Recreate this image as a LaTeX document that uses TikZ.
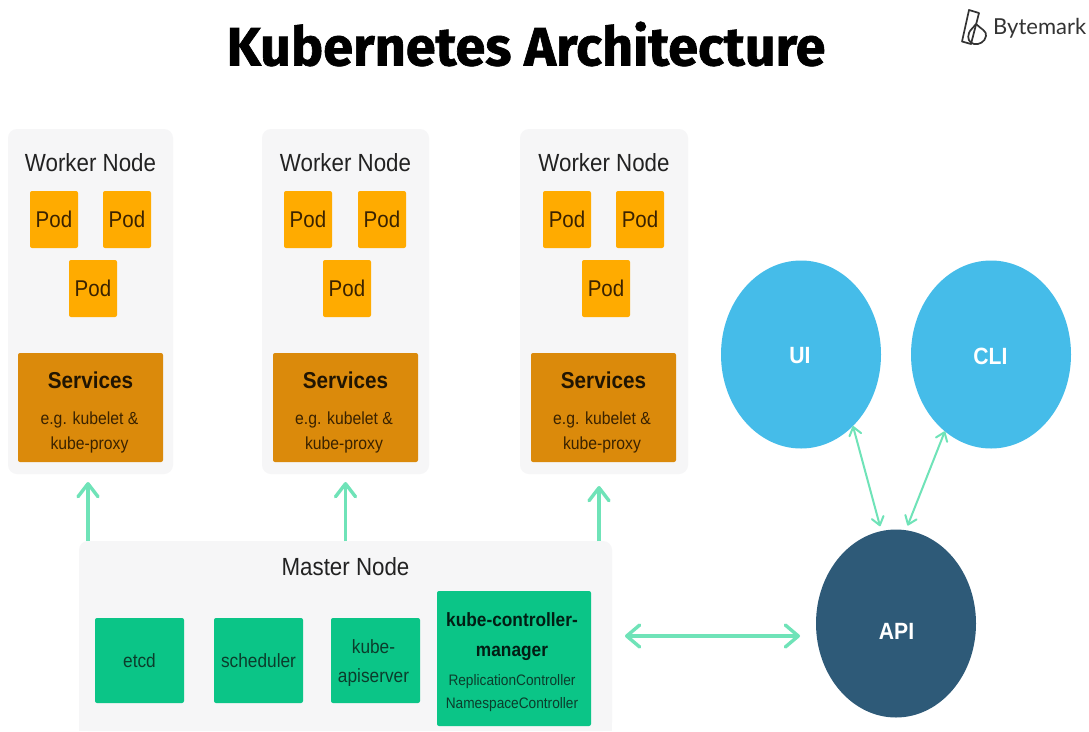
\documentclass[tikz,border=0pt]{standalone}
\usepackage{fontspec}
\setmainfont{Liberation Sans}[FakeStretch=0.9]
\newfontfamily\titlefont{Fira Sans}[FakeStretch=1.0,FakeBold=1.2]
\newfontfamily\logofont{Lato}
\usetikzlibrary{shapes.geometric,arrows.meta}
\definecolor{cardgrey}{HTML}{F6F6F7}
\definecolor{podorange}{HTML}{FFAB00}
\definecolor{svcorange}{HTML}{DB8A0B}
\definecolor{kgreen}{HTML}{0BC587}
\definecolor{kblue}{HTML}{45BCE9}
\definecolor{apiblue}{HTML}{2E5A78}
\definecolor{flowgreen}{HTML}{6FE3B8}
\definecolor{inkbrown}{HTML}{3A2200}
\definecolor{inkgreen}{HTML}{0B3D2C}
\definecolor{inkgrey}{HTML}{222222}
\newcommand{\fsz}[1]{\fontsize{#1}{#1}\selectfont}
\tikzset{
  box/.style={rectangle,inner sep=0pt,outer sep=0pt,anchor=north west},
  card/.style={box,fill=cardgrey,rounded corners=9pt,text=inkgrey,align=center},
  cardtitle/.style={text=inkgrey,inner sep=0pt,font=\fsz{24.8}},
  podbox/.style={box,fill=podorange,rounded corners=2pt,minimum width=48pt,minimum height=57pt,text=inkbrown,font=\fsz{22.8}},
  svcbox/.style={box,fill=svcorange,rounded corners=2pt,minimum width=145pt,minimum height=109pt},
  svctitle/.style={inner sep=0pt,text=black!85!svcorange,font=\fsz{23}\bfseries},
  svcnote/.style={inner sep=0pt,align=center,text=inkbrown,font=\fsz{17.5}},
  greenbox/.style={box,fill=kgreen,rounded corners=2pt,text=inkgreen,align=center,font=\fsz{19.2}},
  greentext/.style={inner sep=0pt,text=inkgreen,align=center,font=\fsz{19.2}},
  disc/.style={ellipse,inner sep=0pt,outer sep=0pt,minimum width=160pt,minimum height=188pt},
  disctext/.style={inner sep=0pt,text=white,font=\fsz{23.5}\bfseries},
  flow/.style={draw=flowgreen,line width=3.4pt,-{Straight Barb[length=13pt,width=20pt,line width=3.4pt,round]}},
  flowthin/.style={draw=flowgreen,line width=2pt,{Straight Barb[length=8pt,width=12pt,line width=2pt,round]}-{Straight Barb[length=8pt,width=12pt,line width=2pt,round]}},
  flowboth/.style={draw=flowgreen,line width=3.4pt,{Straight Barb[length=13pt,width=22pt,line width=3.4pt,round]}-{Straight Barb[length=13pt,width=22pt,line width=3.4pt,round]}},
  logoline/.style={draw=black!80,line width=1.7pt,line join=round}
}
\begin{document}
\begin{tikzpicture}[x=1pt,y=-1pt]
\useasboundingbox (0,0) rectangle (1089,731);
\clip (0,0) rectangle (1089,731);
\fill[white] (0,0) rectangle (1089,731);

% title and logo
\node[inner sep=0pt,text=black,font=\titlefont\fsz{54}\bfseries] (title) at (526,44) {Kubernetes Architecture};
\node[inner sep=0pt,anchor=west,text=black!80,font=\logofont\fsz{22}] (logo) at (993,28) {Bytemark};
\draw[logoline] (969,10) -- (979,13) -- (971,44) -- (962,41.5) -- cycle;
\draw[logoline] (976,24) .. controls (981,29) and (987,31) .. (986,36) .. controls (985,42) and (979,45) .. (974,44) .. controls (969,43) and (967,38) .. (969,33) .. controls (970,30) and (973,28) .. (976,24);

% worker 1
\node[card,minimum width=165pt,minimum height=345pt] (worker1) at (8,129) {};
\node[cardtitle] (w1t) at (90.5,163) {Worker Node};
\node[podbox] (w1p1) at (30,191) {Pod};
\node[podbox] (w1p2) at (103,191) {Pod};
\node[podbox] (w1p3) at (69,260) {Pod};
\node[svcbox] (w1s) at (18,353) {};
\node[svctitle] (w1st) at (90.5,380) {Services};
\node[svcnote] (w1sn) at (89.5,432.5) {e.g. kubelet \&\\[7pt]kube-proxy};

% worker 2
\node[card,minimum width=167pt,minimum height=345pt] (worker2) at (262,129) {};
\node[cardtitle] (w2t) at (345.5,163) {Worker Node};
\node[podbox] (w2p1) at (284,191) {Pod};
\node[podbox] (w2p2) at (358,191) {Pod};
\node[podbox] (w2p3) at (323,260) {Pod};
\node[svcbox] (w2s) at (273,353) {};
\node[svctitle] (w2st) at (345.5,380) {Services};
\node[svcnote] (w2sn) at (344,432.5) {e.g. kubelet \&\\[7pt]kube-proxy};

% worker 3
\node[card,minimum width=168pt,minimum height=345pt] (worker3) at (520,129) {};
\node[cardtitle] (w3t) at (604,163) {Worker Node};
\node[podbox] (w3p1) at (543,191) {Pod};
\node[podbox] (w3p2) at (616,191) {Pod};
\node[podbox] (w3p3) at (582,260) {Pod};
\node[svcbox] (w3s) at (531,353) {};
\node[svctitle] (w3st) at (603.5,380) {Services};
\node[svcnote] (w3sn) at (602,432.5) {e.g. kubelet \&\\[7pt]kube-proxy};

% master
\node[card,minimum width=533pt,minimum height=190pt,rounded corners=9pt] (master) at (79,541) {};
\fill[cardgrey] (79,700) rectangle (612,731);
\node[cardtitle] (mt) at (345.5,567) {Master Node};
\node[greenbox,minimum width=89pt,minimum height=85pt] (etcd) at (95,618) {};
\node[greentext] (etcdt) at (139.5,661) {etcd};
\node[greenbox,minimum width=89pt,minimum height=85pt] (sched) at (214,618) {};
\node[greentext] (schedt) at (258.5,661) {scheduler};
\node[greenbox,minimum width=89pt,minimum height=85pt] (apis) at (331,618) {};
\node[greentext] (apist) at (373.5,663) {kube-\\[10pt]apiserver};
\node[greenbox,minimum width=154pt,minimum height=135pt] (kcm) at (437,591) {};
\node[inner sep=0pt,align=center,text=black!85!kgreen,font=\fsz{19.2}\bfseries] (kcmt) at (512,636.5) {kube-controller-\\[10pt]manager};
\node[inner sep=0pt,align=center,text=inkgreen,font=\fsz{15.2}] (kcmn) at (512,693) {ReplicationController\\[8pt]NamespaceController};

% clients
\node[disc,fill=kblue] (ui) at (801,354.5) {};
\node[disc,fill=kblue] (cli) at (991,354.5) {};
\node[disc,fill=apiblue] (api) at (896,623.5) {};
\node[disctext] (uit) at (800,356) {UI};
\node[disctext] (clit) at (990.5,356) {CLI};
\node[disctext] (apit) at (896.5,631) {API};

% connectors
\coordinate (t1) at ([xshift=-2.5pt]worker1.south);
\coordinate (t2) at (worker2.south);
\coordinate (t3) at ([xshift=-5pt]worker3.south);
\draw[flow,shorten >=8pt] (t1 |- master.north) -- (t1);
\draw[flow,shorten >=8pt] (t2 |- master.north) -- (t2);
\draw[flow,shorten >=12pt] (t3 |- master.north) -- (t3);
\draw[flowboth,shorten <=13pt,shorten >=16pt] (master.east) -- (api.west |- master.east);
\draw[flowthin,shorten >=5pt] (ui.-54) -- (api.99);
\draw[flowthin,shorten >=5pt] (cli.-121) -- (api.84);
\end{tikzpicture}
\end{document}
